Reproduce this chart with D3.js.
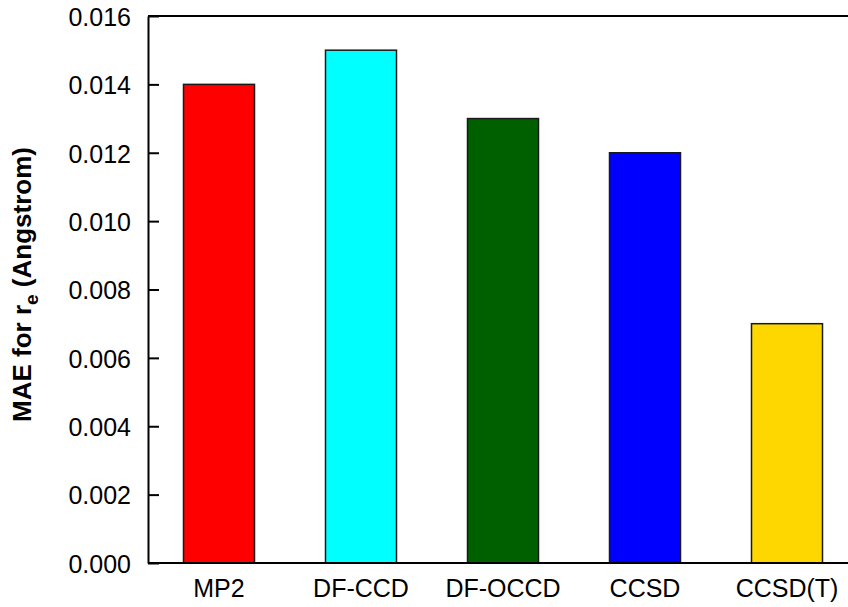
<!DOCTYPE html>
<html>
<head>
<meta charset="utf-8">
<script src="https://cdn.jsdelivr.net/npm/d3@7"></script>
<style>
  html, body { margin: 0; padding: 0; background: #fff; }
  svg { display: block; }
  text { font-family: "Liberation Sans", Arial, Helvetica, sans-serif; }
</style>
</head>
<body>
<svg id="chart" width="848" height="607"></svg>
<script>
// Mean absolute error of equilibrium bond lengths by method
const methods = ["MP2", "DF-CCD", "DF-OCCD", "CCSD", "CCSD(T)"];
const maeValues = [0.014, 0.015, 0.013, 0.012, 0.007];
const barColors = ["#ff0000", "#00ffff", "#006000", "#0000ff", "#ffd700"];
const yTicks = [0, 0.002, 0.004, 0.006, 0.008, 0.010, 0.012, 0.014, 0.016];

const svg = d3.select("#chart");
const plotLeft = 148, plotTop = 16, plotBottom = 563, plotRight = 858;
const fontSize = 25;

const x = d3.scaleBand().domain(methods).range([plotLeft, plotRight]).paddingInner(0.5).paddingOuter(0.25);
const y = d3.scaleLinear().domain([0, 0.016]).range([plotBottom, plotTop]);

// bars
svg.append("g").selectAll("rect")
  .data(methods.map((m, i) => ({ m, v: maeValues[i], c: barColors[i] })))
  .join("rect")
  .attr("x", d => x(d.m))
  .attr("y", d => y(d.v))
  .attr("width", x.bandwidth())
  .attr("height", d => y(0) - y(d.v))
  .attr("fill", d => d.c)
  .attr("stroke", "#1a1a1a")
  .attr("stroke-width", 1.5);

// frame: top and bottom lines run to the right edge
svg.append("line").attr("x1", plotLeft).attr("x2", 848).attr("y1", plotTop).attr("y2", plotTop)
  .attr("stroke", "#000").attr("stroke-width", 2);

// y axis with inward ticks
const yAxis = d3.axisLeft(y).tickValues(yTicks).tickSizeInner(-11).tickSizeOuter(0)
  .tickPadding(17).tickFormat(d3.format(".3f"));
const gy = svg.append("g").attr("transform", `translate(${plotLeft},0)`).call(yAxis);
gy.select(".domain").attr("stroke", "#000").attr("stroke-width", 2);
gy.selectAll(".tick line").attr("stroke", "#000").attr("stroke-width", 2);
gy.selectAll(".tick text").attr("font-size", fontSize).attr("fill", "#000").attr("dy", "0.37em")
  .attr("font-family", "'Liberation Sans', Arial, sans-serif");

// x axis
const xAxis = d3.axisBottom(x).tickSize(0).tickPadding(16);
const gx = svg.append("g").attr("transform", `translate(0,${plotBottom})`).call(xAxis);
gx.select(".domain").remove();
gx.selectAll(".tick text").attr("font-size", fontSize).attr("fill", "#000")
  .attr("font-family", "'Liberation Sans', Arial, sans-serif");
svg.append("line").attr("x1", plotLeft).attr("x2", 848).attr("y1", plotBottom).attr("y2", plotBottom)
  .attr("stroke", "#000").attr("stroke-width", 2);

// y axis title with subscript
const title = svg.append("text")
  .attr("transform", `translate(31,${(plotTop + plotBottom) / 2 - 5}) rotate(-90)`)
  .attr("text-anchor", "middle")
  .attr("font-size", 26).attr("font-weight", "bold").attr("fill", "#000");
title.append("tspan").text("MAE for r");
title.append("tspan").attr("dy", 7).attr("font-size", 19).text("e");
title.append("tspan").attr("dy", -7).text(" (Angstrom)");
</script>
</body>
</html>
